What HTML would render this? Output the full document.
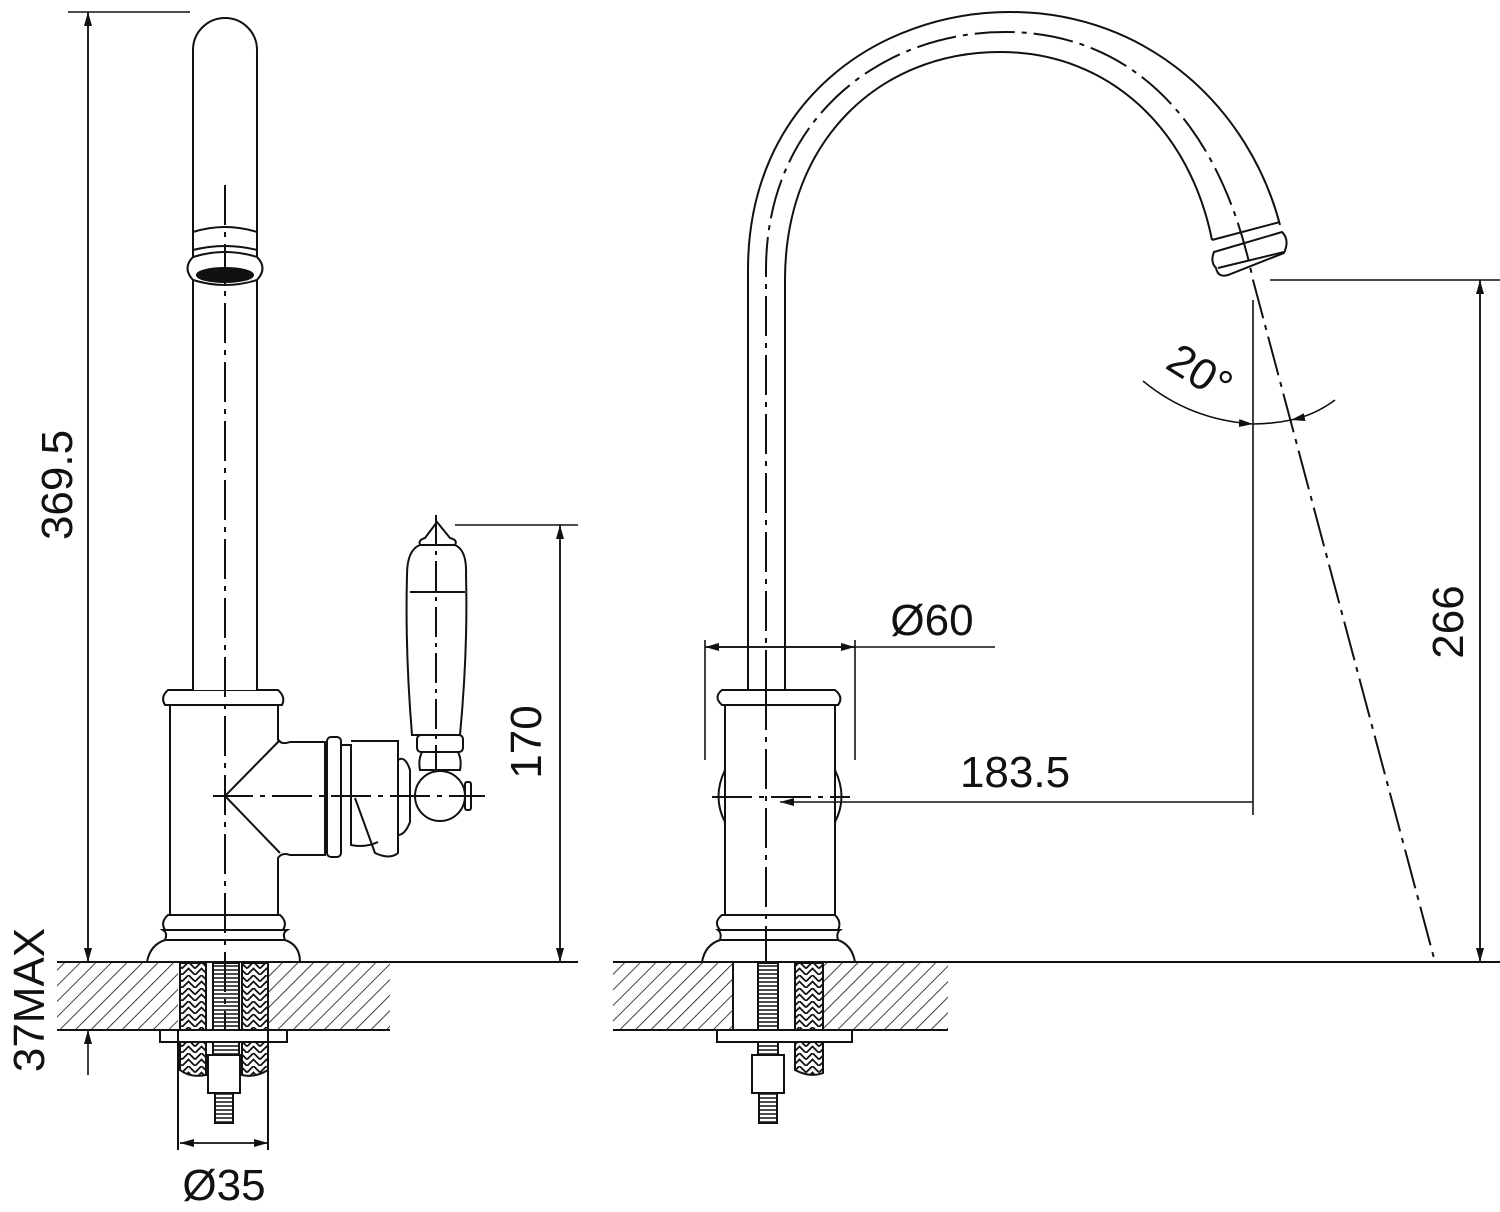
<!DOCTYPE html>
<html><head><meta charset="utf-8"><style>
html,body{margin:0;padding:0;background:#fff;}
svg{display:block}
text{font-family:"Liberation Sans",sans-serif;font-size:44px;fill:#111}
</style></head><body>
<svg width="1500" height="1212" viewBox="0 0 1500 1212" xmlns="http://www.w3.org/2000/svg">
<defs>
<pattern id="hatch" patternUnits="userSpaceOnUse" width="11" height="11" patternTransform="rotate(45)">
<line x1="0" y1="0" x2="0" y2="11" stroke="#111" stroke-width="1.6"/>
</pattern>
<pattern id="braid" patternUnits="userSpaceOnUse" width="13" height="13">
<path d="M0,13 L6.5,6.5 L13,13 M0,6.5 L6.5,0 L13,6.5" stroke="#111" stroke-width="1.8" fill="none"/>
</pattern>
<pattern id="thread" patternUnits="userSpaceOnUse" width="8" height="4">
<line x1="0" y1="2" x2="8" y2="2" stroke="#111" stroke-width="1.5"/>
</pattern>
<marker id="ar" markerWidth="14" markerHeight="8" refX="14" refY="4" orient="auto" markerUnits="userSpaceOnUse">
<path d="M0,0 L14,4 L0,8 Z" fill="#111"/>
</marker>
</defs>
<g fill="none" stroke="#111" stroke-width="2">

<!-- COUNTERS -->
<rect x="57" y="962" width="333" height="68" fill="url(#hatch)" stroke="none"/>
<rect x="613" y="962" width="335" height="68" fill="url(#hatch)" stroke="none"/>
<line x1="57" y1="962" x2="578" y2="962"/>
<line x1="57" y1="1030" x2="390" y2="1030"/>
<line x1="613" y1="962" x2="1500" y2="962"/>
<line x1="613" y1="1030" x2="948" y2="1030"/>

<!-- LEFT FAUCET -->
<rect x="178" y="963" width="90" height="66" fill="#fff" stroke="none"/>
<rect x="180" y="963" width="26" height="67" fill="url(#braid)"/>
<rect x="242" y="963" width="26" height="67" fill="url(#braid)"/>
<rect x="213" y="963" width="26" height="100" fill="url(#thread)"/>
<rect x="160" y="1030" width="127" height="12" fill="#fff"/>
<path d="M180,1042 V1070 Q190,1078 206,1075 V1042 Z" fill="url(#braid)"/>
<path d="M242,1042 V1075 Q255,1078 268,1070 V1042 Z" fill="url(#braid)"/>
<rect x="208" y="1055" width="32" height="38" fill="#fff"/>
<rect x="215" y="1093" width="18" height="30" fill="url(#thread)"/>
<line x1="178" y1="1030" x2="178" y2="1150"/>
<line x1="268" y1="1030" x2="268" y2="1150"/>

<!-- base -->
<path d="M147,962 Q150,945 165,940 Q168,933 163,930 H287 Q282,933 285,940 Q300,945 300,962 Z" fill="#fff"/>
<path d="M165,930 Q160,922 168,915 H280 Q288,922 283,930 Z" fill="#fff"/>
<line x1="165" y1="940" x2="285" y2="940"/>
<!-- body -->
<path d="M170,915 V705 H278 V740 Q282,745 290,742 H325 V855 H290 Q282,852 278,858 V915 Z" fill="#fff"/>
<path d="M165,705 Q160,697 168,690 H278 Q286,697 282,705 Z" fill="#fff"/>
<path d="M280,740 L225,796 L280,853"/>
<rect x="327" y="737" width="14" height="120" rx="4" fill="#fff"/>
<path d="M341,745 H351 V845 Q365,848 378,842"/>
<path d="M351,741 H398 V853 Q390,860 375,853 L355,798"/>
<path d="M398,760 Q405,755 410,770 V822 Q405,835 398,835"/>
<circle cx="440" cy="796" r="25" fill="#fff"/>
<rect x="465" y="782" width="6" height="28" rx="2"/>
<!-- handle -->
<path d="M420,770 Q418,760 422,752 H458 Q462,760 460,770 Z" fill="#fff"/>
<rect x="417" y="735" width="46" height="17" rx="4" fill="#fff"/>
<path d="M412,735 Q405,650 407,575 Q407,550 420,545 H455 Q467,550 466,575 Q468,650 460,735 Z" fill="#fff"/>
<line x1="410" y1="592" x2="465" y2="592"/>
<path d="M420,545 Q418,540 425,538 L437,522 L450,538 Q458,540 455,545 Z" fill="#fff"/>
<line x1="436" y1="515" x2="436" y2="770" stroke-dasharray="30,6,4,6"/>
<!-- spout tube -->
<path d="M193,690 V50 A32,32 0 0 1 257,50 V690" fill="#fff"/>
<path d="M193,232 Q225,222 257,232"/>
<path d="M193,250 Q225,242 257,250"/>
<path d="M193,257 Q182,268 193,280 Q225,290 257,280 Q268,268 257,257 Q225,247 193,257 Z" fill="#fff"/>
<ellipse cx="225" cy="275" rx="28" ry="7" fill="#111"/>
<line x1="225" y1="185" x2="225" y2="1030" stroke-dasharray="40,7,5,7"/>
<line x1="213" y1="796" x2="485" y2="796" stroke-dasharray="40,7,5,7"/>

<!-- RIGHT FAUCET -->
<rect x="733" y="963" width="90" height="66" fill="#fff" stroke="none"/>
<line x1="733" y1="962" x2="733" y2="1030"/>
<line x1="823" y1="962" x2="823" y2="1030"/>
<rect x="795" y="963" width="28" height="67" fill="url(#braid)"/>
<rect x="758" y="963" width="20" height="100" fill="url(#thread)"/>
<rect x="717" y="1030" width="135" height="12" fill="#fff"/>
<path d="M795,1042 V1070 Q810,1078 823,1073 V1042 Z" fill="url(#braid)"/>
<rect x="752" y="1055" width="32" height="38" fill="#fff"/>
<rect x="759" y="1093" width="18" height="30" fill="url(#thread)"/>

<path d="M702,962 Q705,945 720,940 Q722,933 718,930 H840 Q836,933 838,940 Q852,945 855,962 Z" fill="#fff"/>
<path d="M720,930 Q713,922 722,915 H835 Q842,922 838,930 Z" fill="#fff"/>
<line x1="720" y1="940" x2="838" y2="940"/>
<rect x="725" y="705" width="110" height="210" fill="#fff"/>
<path d="M725,770 Q712,797 725,822"/>
<path d="M835,770 Q848,797 835,822"/>
<path d="M722,705 Q713,697 722,690 H835 Q844,697 838,705 Z" fill="#fff"/>
<!-- spout -->
<path d="M748,690 V270 C748,100 880,12 1010,12 C1150,12 1250,110 1280,225"/>
<path d="M785,690 V280 C785,140 880,52 1000,52 C1110,52 1190,130 1212,240"/>
<path d="M1212,240 L1280,222"/>
<path d="M1214,252 L1282,232 Q1290,240 1284,253 L1228,275 Q1218,278 1216,268 Q1210,262 1214,252 Z" fill="#fff"/>
<line x1="1218" y1="268" x2="1284" y2="252"/>
<path d="M766,690 V270 C766,120 880,32 1005,32 C1130,32 1220,120 1253,280 L1435,962" stroke-dasharray="40,7,5,7"/>
<line x1="766" y1="690" x2="766" y2="962" stroke-dasharray="40,7,5,7"/>
<line x1="712" y1="797" x2="850" y2="797" stroke-dasharray="40,7,5,7"/>

<!-- DIMENSIONS -->
<g stroke-width="1.6">
<line x1="68" y1="12" x2="190" y2="12"/>
<line x1="88" y1="962" x2="88" y2="12" marker-end="url(#ar)"/>
<line x1="88" y1="12" x2="88" y2="962" marker-end="url(#ar)"/>
<line x1="88" y1="1075" x2="88" y2="1030" marker-end="url(#ar)"/>
<line x1="180" y1="1143" x2="268" y2="1143" marker-end="url(#ar)"/>
<line x1="268" y1="1143" x2="180" y2="1143" marker-end="url(#ar)"/>
<line x1="455" y1="525" x2="578" y2="525"/>
<line x1="560" y1="962" x2="560" y2="525" marker-end="url(#ar)"/>
<line x1="560" y1="525" x2="560" y2="962" marker-end="url(#ar)"/>
<line x1="705" y1="640" x2="705" y2="760"/>
<line x1="855" y1="640" x2="855" y2="760"/>
<line x1="705" y1="647" x2="995" y2="647"/>
<line x1="855" y1="647" x2="705" y2="647" marker-end="url(#ar)"/>
<line x1="705" y1="647" x2="855" y2="647" marker-end="url(#ar)"/>
<line x1="1253" y1="802" x2="780" y2="802" marker-end="url(#ar)"/>
<line x1="1253" y1="300" x2="1253" y2="815"/>
<line x1="1270" y1="280" x2="1500" y2="280"/>
<line x1="1480" y1="962" x2="1480" y2="280" marker-end="url(#ar)"/>
<line x1="1480" y1="280" x2="1480" y2="962" marker-end="url(#ar)"/>
<path d="M1143,381 Q1190,420 1253,424" marker-end="url(#ar)"/>
<path d="M1335,400 Q1315,415 1291,420" marker-end="url(#ar)"/>
<path d="M1253,424 Q1272,424 1291,420"/>
</g>
</g>
<text transform="translate(72,485) rotate(-90)" text-anchor="middle">369.5</text>
<text transform="translate(44,1000) rotate(-90)" text-anchor="middle">37MAX</text>
<text x="224" y="1200" text-anchor="middle">Ø35</text>
<text transform="translate(541,742) rotate(-90)" text-anchor="middle">170</text>
<text x="932" y="635" text-anchor="middle">Ø60</text>
<text x="1015" y="787" text-anchor="middle">183.5</text>
<text transform="translate(1463,622) rotate(-90)" text-anchor="middle">266</text>
<text transform="translate(1192,385) rotate(32)" text-anchor="middle">20°</text>
</svg>
</body></html>
